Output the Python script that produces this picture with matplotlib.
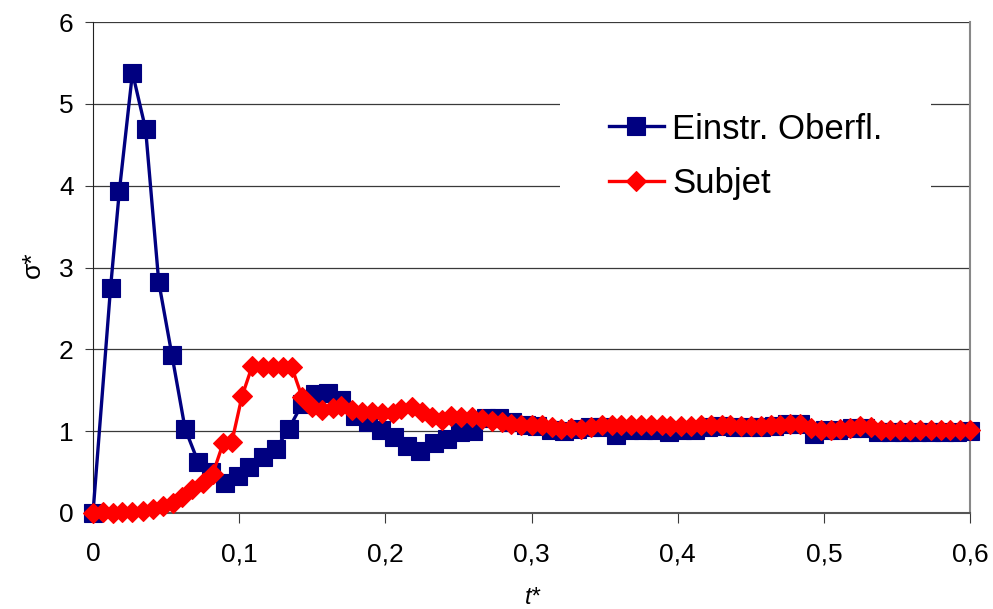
import numpy as np
import matplotlib
matplotlib.use("Agg")
from matplotlib import pyplot as plt

plt.rcParams['font.family'] = ['Liberation Sans', 'DejaVu Sans']

# Einstr. Oberfl. (blue squares)
blue_t = [0, 0.012, 0.018, 0.027, 0.036, 0.045, 0.054, 0.063, 0.072, 0.081,
          0.090, 0.099, 0.107, 0.116, 0.125, 0.134, 0.143, 0.152, 0.161, 0.170,
          0.179, 0.188, 0.197, 0.206, 0.215, 0.224, 0.233, 0.242, 0.251, 0.260,
          0.269, 0.278, 0.287, 0.296, 0.304, 0.313, 0.322, 0.331, 0.340, 0.349,
          0.358, 0.367, 0.376, 0.385, 0.394, 0.403, 0.412, 0.421, 0.430, 0.439,
          0.448, 0.457, 0.466, 0.475, 0.484, 0.493, 0.501, 0.510, 0.519, 0.528,
          0.537, 0.546, 0.555, 0.564, 0.573, 0.582, 0.591, 0.600]
blue_s = [0.0, 2.75, 3.93, 5.38, 4.69, 2.82, 1.93, 1.03, 0.62, 0.50,
          0.37, 0.45, 0.56, 0.68, 0.78, 1.03, 1.33, 1.45, 1.47, 1.38,
          1.19, 1.11, 1.02, 0.93, 0.82, 0.76, 0.85, 0.90, 0.99, 1.00,
          1.16, 1.16, 1.11, 1.07, 1.06, 1.02, 1.00, 1.03, 1.05, 1.05,
          0.95, 1.01, 1.02, 1.02, 0.99, 1.02, 1.02, 1.05, 1.06, 1.05,
          1.05, 1.05, 1.06, 1.09, 1.09, 0.97, 1.01, 1.01, 1.04, 1.04,
          0.99, 0.99, 0.99, 0.99, 0.99, 0.99, 0.99, 1.00]

# Subjet (red diamonds)
red_t = [0, 0.007, 0.014, 0.020, 0.027, 0.034, 0.041, 0.048, 0.055, 0.061,
         0.068, 0.075, 0.082, 0.089, 0.095, 0.102, 0.109, 0.116, 0.123, 0.130,
         0.136, 0.143, 0.150, 0.157, 0.164, 0.170, 0.177, 0.184, 0.191, 0.198,
         0.205, 0.211, 0.218, 0.225, 0.232, 0.239, 0.245, 0.252, 0.259, 0.266,
         0.273, 0.280, 0.286, 0.293, 0.300, 0.307, 0.314, 0.320, 0.327, 0.334,
         0.341, 0.348, 0.355, 0.361, 0.368, 0.375, 0.382, 0.389, 0.395, 0.402,
         0.409, 0.416, 0.423, 0.430, 0.436, 0.443, 0.450, 0.457, 0.464, 0.470,
         0.477, 0.484, 0.491, 0.498, 0.505, 0.511, 0.518, 0.525, 0.532, 0.539,
         0.545, 0.552, 0.559, 0.566, 0.573, 0.580, 0.586, 0.593, 0.600]
red_s = [0.00, 0.01, 0.00, 0.01, 0.01, 0.03, 0.05, 0.08, 0.12, 0.20,
         0.29, 0.37, 0.48, 0.85, 0.87, 1.43, 1.80, 1.79, 1.79, 1.78,
         1.78, 1.42, 1.29, 1.26, 1.28, 1.31, 1.26, 1.23, 1.24, 1.22,
         1.22, 1.27, 1.29, 1.24, 1.17, 1.14, 1.19, 1.17, 1.17, 1.15,
         1.13, 1.11, 1.09, 1.08, 1.08, 1.07, 1.05, 1.03, 1.04, 1.03,
         1.05, 1.08, 1.07, 1.08, 1.08, 1.08, 1.08, 1.07, 1.06, 1.06,
         1.06, 1.07, 1.07, 1.07, 1.07, 1.06, 1.06, 1.06, 1.07, 1.08,
         1.09, 1.09, 1.04, 1.02, 1.02, 1.03, 1.04, 1.06, 1.05, 1.02,
         1.01, 1.02, 1.01, 1.02, 1.01, 1.02, 1.01, 1.02, 1.02]

x_ticks = [0, 0.1, 0.2, 0.3, 0.4, 0.5, 0.6]
x_labels = ["0", "0,1", "0,2", "0,3", "0,4", "0,5", "0,6"]
y_ticks = [0, 1, 2, 3, 4, 5, 6]

fig = plt.figure(figsize=(9.93, 6.09), dpi=100)
ax = fig.add_axes([93/993, 1-513/609, (970-93)/993, (513-22)/609])

for yv in y_ticks[1:]:
    ax.axhline(yv, color="#3a3a3a", lw=0.9, zorder=1)

ax.plot(blue_t, blue_s, color="#000080", lw=2.4, marker="s", ms=13,
        mec="#000080", mew=0.8, label="Einstr. Oberfl.", clip_on=False, zorder=3)
ax.plot(red_t, red_s, color="#ff0000", lw=2.4, marker="D", ms=10.5,
        mec="#ff0000", mew=0.8, label="Subjet", clip_on=False, zorder=4)

ax.set_xlim(0, 0.6)
ax.set_ylim(0, 6)
ax.set_xticks(x_ticks)
ax.set_xticklabels(x_labels)
ax.set_yticks(y_ticks)
ax.tick_params(axis="both", labelsize=19, direction="out", color="#3a3a3a")
ax.tick_params(axis="x", length=7, pad=14)
ax.tick_params(axis="y", length=6, pad=8)

ax.spines["top"].set_visible(False)
ax.spines["left"].set_color("#222222")
ax.spines["bottom"].set_color("#555555")
ax.spines["bottom"].set_linewidth(1.5)
ax.spines["right"].set_color("#888888")
ax.spines["right"].set_linewidth(1.5)

fig.text(33/993, 1-265/609, "σ*", rotation=90, fontsize=19,
         ha="center", va="center")
fig.text(533/993, 1-586/609, "t*", fontsize=17, style="italic",
         ha="center", va="top")

leg = ax.legend(loc="upper left", bbox_to_anchor=(560/993, 1-64/609),
                bbox_transform=fig.transFigure, borderaxespad=0,
                fontsize=25, handlelength=1.6, handletextpad=0.23,
                labelspacing=0.62, borderpad=1.4, numpoints=1,
                fancybox=False, framealpha=1)
leg.get_frame().set_edgecolor("white")
leg.get_frame().set_linewidth(0)

plt.savefig("out.png", dpi=100)
